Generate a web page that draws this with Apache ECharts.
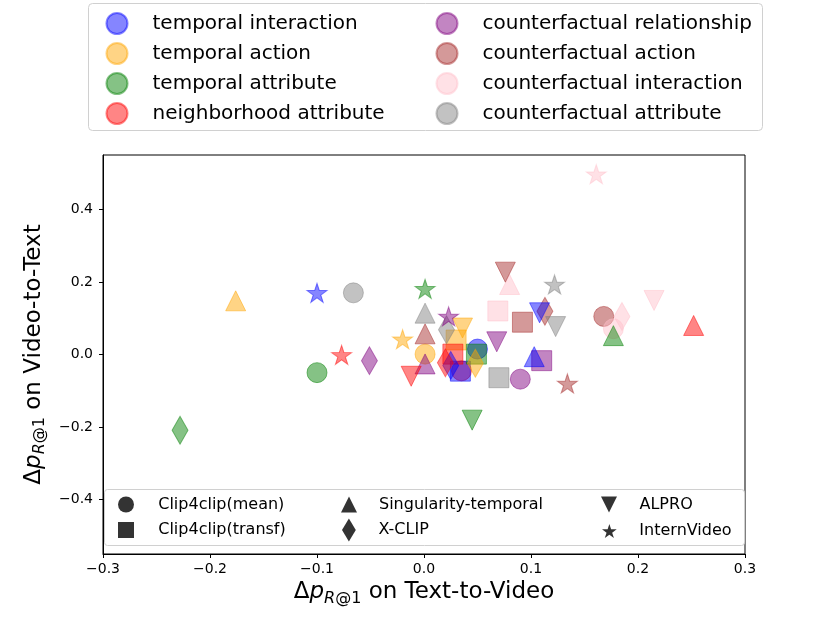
<!DOCTYPE html>
<html><head><meta charset="utf-8">
<script src="https://cdn.jsdelivr.net/npm/echarts@6/dist/echarts.min.js"></script>
<style>html,body{margin:0;padding:0;background:#fff}#c{width:830px;height:623px}</style>
</head><body><div id="c"></div>
<script>
// ---------- data ----------
const categories = ['temporal interaction', 'temporal action', 'temporal attribute', 'neighborhood attribute',
  'counterfactual relationship', 'counterfactual action', 'counterfactual interaction', 'counterfactual attribute'];
const categoryColors = ['rgba(0,0,255,0.6)', 'rgba(255,165,0,0.6)', 'rgba(0,128,0,0.6)', 'rgba(255,0,0,0.6)',
  'rgba(128,0,128,0.6)', 'rgba(165,42,42,0.6)', 'rgba(255,192,203,0.6)', 'rgba(128,128,128,0.6)'];
const models = ['Clip4clip(mean)', 'Clip4clip(transf)', 'Singularity-temporal', 'X-CLIP', 'ALPRO', 'InternVideo'];
// each row: [Δp on Text-to-Video, Δp on Video-to-Text], in the order of `models`
const temporalInteraction      = [[0.050, 0.015], [0.034, -0.046], [0.103, -0.006], [0.025, -0.030], [0.108, 0.115], [-0.100, 0.170]];
const temporalAction           = [[0.001, 0.001], [0.030, 0.040], [-0.176, 0.148], [0.048, -0.024], [0.036, 0.073], [-0.020, 0.042]];
const temporalAttribute        = [[-0.100, -0.050], [0.049, 0.001], [0.177, 0.052], [-0.228, -0.209], [0.045, -0.181], [0.001, 0.181]];
const neighborhoodAttribute    = [[0.035, -0.045], [0.027, 0.001], [0.252, 0.080], [0.020, -0.023], [-0.012, -0.060], [-0.077, -0.001]];
const cfRelationship           = [[0.090, -0.068], [0.110, -0.017], [0.001, -0.026], [-0.051, -0.017], [0.068, 0.035], [0.023, 0.105]];
const cfAction                 = [[0.168, 0.105], [0.092, 0.089], [0.001, 0.057], [0.113, 0.119], [0.076, 0.227], [0.134, -0.080]];
const cfInteraction            = [[0.177, 0.071], [0.069, 0.120], [0.080, 0.193], [0.185, 0.105], [0.215, 0.149], [0.161, 0.497]];
const cfAttribute              = [[-0.066, 0.170], [0.070, -0.064], [0.001, 0.114], [0.021, 0.068], [0.123, 0.077], [0.122, 0.193]];
const categoryValues = [temporalInteraction, temporalAction, temporalAttribute, neighborhoodAttribute,
  cfRelationship, cfAction, cfInteraction, cfAttribute];
const xTicks = [-0.3, -0.2, -0.1, 0.0, 0.1, 0.2, 0.3];
const yTicks = [-0.4, -0.2, 0.0, 0.2, 0.4];

// ---------- styles ----------
const FONT = 'DejaVu Sans';
const STAR = 'path://M0,-100L22.45,-30.9L95.1,-30.9L36.3,11.8L58.8,80.9L0,38.2L-58.8,80.9L-36.3,11.8L-95.1,-30.9L-22.45,-30.9Z';
const modelSymbols = ['circle', 'path://M0,0L10,0L10,10L0,10Z', 'path://M5,0L10,10L0,10Z',
  'path://M3,0L6,5L3,10L0,5Z', 'path://M0,0L10,0L5,10Z', STAR];
const modelSizes = [[20, 20], [20, 20], [20, 20], [16, 28], [20, 20], [20, 19]];
const legendIconH = [16, 16, 16, 23, 16, 14];
// [legend left, row centre y, item width]
const legendPos = [[118, 504.5, 54.5], [118, 530, 54.5], [341, 504.5, 50], [342, 530, 49], [601, 504.5, 51], [602, 530, 50]];

const series = [];
// dummy series carrying the colour legend
categories.forEach((c, i) => series.push({
  type: 'scatter', name: c, data: [], symbol: 'circle',
  itemStyle: { color: categoryColors[i], borderColor: categoryColors[i], borderWidth: 1 }
}));
// one series per model (drawn model by model, as in the original)
models.forEach((m, k) => series.push({
  type: 'scatter', name: m, symbol: modelSymbols[k], symbolSize: modelSizes[k],
  itemStyle: { color: '#000' }, silent: true,
  data: categoryValues.map((vals, i) => ({
    value: vals[k],
    itemStyle: { color: categoryColors[i], borderColor: categoryColors[i], borderWidth: 1 }
  }))
}));

const fmt = v => (Math.abs(v) < 1e-9 ? 0 : v).toFixed(1).replace('-', '\u2212');
const nameRich = {
  a: { fontFamily: FONT, fontSize: 23, color: '#000' },
  p: { fontFamily: FONT, fontSize: 23, fontStyle: 'italic', color: '#000' },
  r: { fontFamily: FONT, fontSize: 16, fontStyle: 'italic', color: '#000', padding: [13, 0, 0, 0] },
  s: { fontFamily: FONT, fontSize: 16, color: '#000', padding: [13, 0, 0, 0] }
};

const legends = [];
legends.push({ data: categories.slice(0, 4), left: 105.5, top: 12 });
legends.push({ data: categories.slice(4), left: 435.5, top: 12 });
legends.forEach(l => Object.assign(l, {
  orient: 'vertical', padding: 0, itemWidth: 61, itemHeight: 21, itemGap: 7, selectedMode: false,
  textStyle: { fontFamily: FONT, fontSize: 20, color: '#000', lineHeight: 21 }
}));
models.forEach((m, k) => legends.push({
  data: [m], orient: 'horizontal', padding: 0, selectedMode: false,
  left: legendPos[k][0], top: legendPos[k][1] - legendIconH[k] / 2,
  itemWidth: legendPos[k][2], itemHeight: legendIconH[k],
  textStyle: { fontFamily: FONT, fontSize: 16, color: '#000', lineHeight: 16 }
}));

const option = {
  animation: false,
  backgroundColor: '#fff',
  grid: { left: 103, right: 85, top: 155, bottom: 69, show: true, borderColor: '#000', borderWidth: 1 },
  xAxis: {
    type: 'value', min: -0.3, max: 0.3,
    name: '{a|Δ}{p|p}{r|R}{s|@1}{a| on Text-to-Video}', nameLocation: 'middle', nameGap: 23,
    nameTextStyle: { rich: nameRich },
    axisLine: { show: true, onZero: false, lineStyle: { color: '#000', width: 1 } },
    axisTick: { show: true, length: 4, lineStyle: { color: '#000' }, customValues: xTicks },
    axisLabel: { fontFamily: FONT, fontSize: 14, color: '#000', margin: 8, customValues: xTicks, formatter: fmt },
    splitLine: { show: false }
  },
  yAxis: {
    type: 'value', min: -0.55, max: 0.55,
    name: '{a|Δ}{p|p}{r|R}{s|@1}{a| on Video-to-Text}', nameLocation: 'middle', nameGap: 39, nameRotate: 90,
    nameTextStyle: { rich: nameRich },
    axisLine: { show: true, onZero: false, lineStyle: { color: '#000', width: 1 } },
    axisTick: { show: true, length: 4, lineStyle: { color: '#000' }, customValues: yTicks },
    axisLabel: { fontFamily: FONT, fontSize: 14, color: '#000', margin: 10, customValues: yTicks, formatter: fmt },
    splitLine: { show: false }
  },
  legend: legends,
  graphic: [
    { type: 'rect', z: 3, shape: { x: 88.5, y: 3.5, width: 674, height: 127, r: 4 },
      style: { fill: '#fff', stroke: '#d0d0d0', lineWidth: 1 } },
    { type: 'rect', z: 3, shape: { x: 104.5, y: 489.5, width: 640, height: 56, r: 3 },
      style: { fill: 'rgba(255,255,255,0.8)', stroke: '#d0d0d0', lineWidth: 1 } }
  ],
  series: series
};
const chart = echarts.init(document.getElementById('c'), null, { renderer: 'canvas' });
chart.setOption(option);
</script></body></html>
